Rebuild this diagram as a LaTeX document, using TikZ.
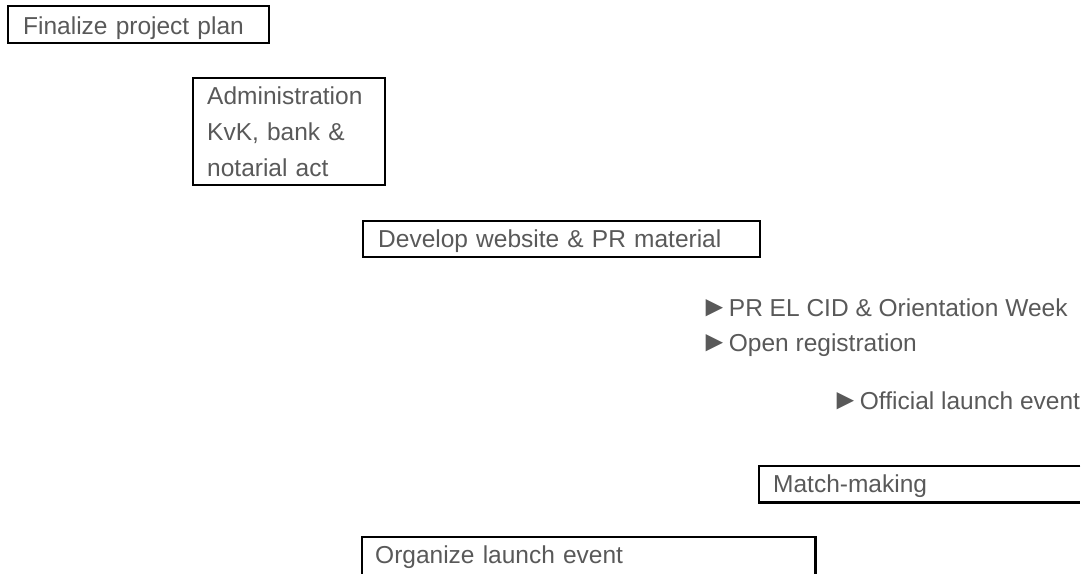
\documentclass[tikz,border=0pt]{standalone}
\usepackage{fontspec}
\setmainfont{Liberation Sans}
\definecolor{txtgray}{HTML}{595959}
\newcommand{\ptr}{{\fontsize{29}{36}\selectfont ►}}
\begin{document}
\begin{tikzpicture}[x=1pt,y=-1pt,
  every node/.style={font=\fontsize{24.5}{36}\selectfont, text=txtgray},
  taskbox/.style={draw=black, line width=2.4pt, anchor=north west, align=left, inner ysep=0pt},
  openbox/.style={anchor=north west, align=left, inner ysep=0pt},
  edge/.style={draw=black, line width=2.4pt},
  bullet/.style={anchor=base west, inner sep=0pt}
]
\useasboundingbox (0,0) rectangle (1091,573);

\node[taskbox, inner xsep=15pt, text width=231pt, text height=28pt, text depth=9pt] (fin) at (7,5) {Finalize project plan};

\node[taskbox, inner xsep=14pt, text width=164pt, text height=26pt, text depth=81pt] (adm) at (192,77) {Administration\\KvK, bank \&\\notarial act};

\node[taskbox, inner xsep=15pt, text width=367pt, text height=26pt, text depth=10pt] (dev) at (362,220) {Develop website \& PR material};

\node[bullet] (pr) at (700,316) {\ptr PR EL CID \& Orientation Week};
\node[bullet] (reg) at (700,351) {\ptr Open registration};
\node[bullet] (off) at (831,409) {\ptr Official launch event};

\node[openbox, inner xsep=14pt, text width=293pt, text height=26pt, text depth=10pt] (mm) at (759,466) {Match-making};
\draw[edge] (mm.north east) -- (mm.north west) -- (mm.south west) -- (mm.south east);

\node[openbox, inner xsep=13pt, text width=427pt, text height=26pt, text depth=40pt] (org) at (362,537) {Organize launch event};
\draw[edge] (org.south west) -- (org.north west) -- (org.north east) -- (org.south east);
\end{tikzpicture}
\end{document}
